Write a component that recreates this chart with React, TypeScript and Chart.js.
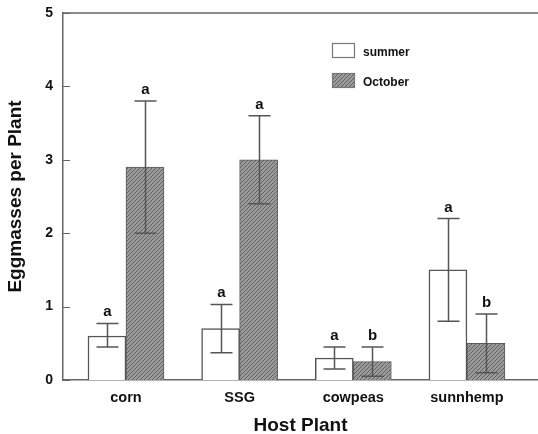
import React, { useEffect, useRef } from "react";
import { Chart, registerables } from "chart.js";

Chart.register(...registerables);

const categories = ["corn", "SSG", "cowpeas", "sunnhemp"];
const seriesNames = ["summer", "October"];
const summerMeans = [0.6, 0.7, 0.3, 1.5];
const summerLow = [0.45, 0.37, 0.15, 0.8];
const summerHigh = [0.77, 1.03, 0.45, 2.2];
const summerLetters = ["a", "a", "a", "a"];
const octoberMeans = [2.9, 3.0, 0.25, 0.5];
const octoberLow = [2.0, 2.4, 0.05, 0.1];
const octoberHigh = [3.8, 3.6, 0.45, 0.9];
const octoberLetters = ["a", "a", "b", "b"];
const yTicks = [0, 1, 2, 3, 4, 5];

const FONT = "Arial, 'Liberation Sans', Helvetica, sans-serif";
const AXIS = "#666666";
const INK = "#111111";

function makePattern(ctx: CanvasRenderingContext2D) {
  const pc = document.createElement("canvas");
  pc.width = 4;
  pc.height = 4;
  const p = pc.getContext("2d")!;
  p.fillStyle = "#9a9a9a";
  p.fillRect(0, 0, 4, 4);
  p.strokeStyle = "#626262";
  p.lineWidth = 1;
  p.beginPath();
  p.moveTo(-1, 5);
  p.lineTo(5, -1);
  p.stroke();
  return ctx.createPattern(pc, "repeat")!;
}

export default function App() {
  const ref = useRef<HTMLCanvasElement | null>(null);

  useEffect(() => {
    const canvas = ref.current!;
    const ctx = canvas.getContext("2d")!;
    const pattern = makePattern(ctx);

    const lows = [summerLow, octoberLow];
    const highs = [summerHigh, octoberHigh];
    const letters = [summerLetters, octoberLetters];

    const decor = {
      id: "decor",
      afterDatasetsDraw(chart: any) {
        const c = chart.ctx;
        const area = chart.chartArea;
        const y = chart.scales.y;
        c.save();
        // top border
        c.strokeStyle = AXIS;
        c.lineWidth = 1.5;
        c.beginPath();
        c.moveTo(area.left, area.top);
        c.lineTo(area.right, area.top);
        c.stroke();
        // inward tick marks
        c.lineWidth = 1;
        yTicks.forEach((t) => {
          const py = Math.round(y.getPixelForValue(t)) + 0.5;
          c.beginPath();
          c.moveTo(area.left, py);
          c.lineTo(area.left + 7, py);
          c.stroke();
        });
        // error bars + letters
        for (let d = 0; d < 2; d++) {
          const meta = chart.getDatasetMeta(d);
          meta.data.forEach((bar: any, i: number) => {
            const x = Math.round(bar.x) + 0.5;
            const lo = y.getPixelForValue(lows[d][i]);
            const hi = y.getPixelForValue(highs[d][i]);
            c.strokeStyle = "#555555";
            c.lineWidth = 1.5;
            c.beginPath();
            c.moveTo(x, lo);
            c.lineTo(x, hi);
            c.moveTo(x - 11, hi);
            c.lineTo(x + 11, hi);
            c.moveTo(x - 11, lo);
            c.lineTo(x + 11, lo);
            c.stroke();
            c.fillStyle = INK;
            c.font = `bold 15px ${FONT}`;
            c.textAlign = "center";
            c.textBaseline = "alphabetic";
            c.fillText(letters[d][i], x, hi - 7);
          });
        }
        // legend
        const lx = area.left + 269;
        const ly = area.top + 30;
        const fills = ["#ffffff", pattern];
        seriesNames.forEach((name, k) => {
          const by = ly + k * 30;
          c.fillStyle = fills[k] as any;
          c.fillRect(lx, by, 23, 15);
          c.strokeStyle = "#777777";
          c.lineWidth = 1.2;
          c.strokeRect(lx + 0.5, by + 0.5, 22, 14);
          c.fillStyle = INK;
          c.font = `bold 12px ${FONT}`;
          c.textAlign = "left";
          c.textBaseline = "middle";
          c.fillText(name, lx + 31, by + 10);
        });
        c.restore();
      },
    };

    const chart = new Chart(canvas, {
      type: "bar",
      data: {
        datasets: [
          {
            label: seriesNames[0],
            data: summerMeans.map((v, i) => ({ x: i, y: v })),
            backgroundColor: "#ffffff",
            borderColor: "#555555",
            borderWidth: 1.5,
            barThickness: 38,
          },
          {
            label: seriesNames[1],
            data: octoberMeans.map((v, i) => ({ x: i, y: v })),
            backgroundColor: pattern as any,
            borderColor: "#5a5a5a",
            borderWidth: 1,
            barThickness: 38,
          },
        ],
      },
      options: {
        animation: false,
        responsive: false,
        layout: { padding: { top: 13, left: 0, right: 0, bottom: 0 } },
        plugins: { legend: { display: false }, tooltip: { enabled: false } },
        scales: {
          x: {
            type: "linear",
            offset: false,
            min: -0.554,
            max: 3.625,
            grid: { display: false, drawTicks: false, offset: false },
            border: { display: true, color: AXIS, width: 1.5 },
            afterBuildTicks: (s: any) => {
              s.ticks = categories.map((_, i) => ({ value: i }));
            },
            afterFit: (s: any) => {
              s.height = 54;
              s.paddingLeft = 0;
              s.paddingRight = 0;
            },
            ticks: {
              autoSkip: false,
              maxRotation: 0,
              padding: 9,
              color: INK,
              font: { family: FONT, size: 14.5, weight: "bold" },
              callback: (v: any) => categories[v as number] ?? "",
            },
            title: {
              display: true,
              text: "Host Plant",
              color: INK,
              font: { family: FONT, size: 19, weight: "bold" },
              padding: { top: 0, bottom: -3 },
            },
          },
          y: {
            min: 0,
            max: 5,
            grid: { display: false, drawTicks: false },
            border: { display: true, color: AXIS, width: 1.5 },
            afterBuildTicks: (s: any) => {
              s.ticks = yTicks.map((v) => ({ value: v }));
            },
            afterFit: (s: any) => {
              s.width = 63;
              s.paddingTop = 0;
              s.paddingBottom = 0;
            },
            ticks: {
              padding: 10,
              color: INK,
              font: { family: FONT, size: 14, weight: "bold" },
            },
            title: {
              display: true,
              text: "Eggmasses per Plant",
              color: INK,
              font: { family: FONT, size: 19, weight: "bold" },
              padding: { top: 4, bottom: 0 },
            },
          },
        },
      },
      plugins: [decor],
    });
    return () => chart.destroy();
  }, []);

  return (
    <div style={{ position: "absolute", left: 0, top: 0, width: 538, height: 434 }}>
      <canvas ref={ref} width={538} height={434} />
    </div>
  );
}
